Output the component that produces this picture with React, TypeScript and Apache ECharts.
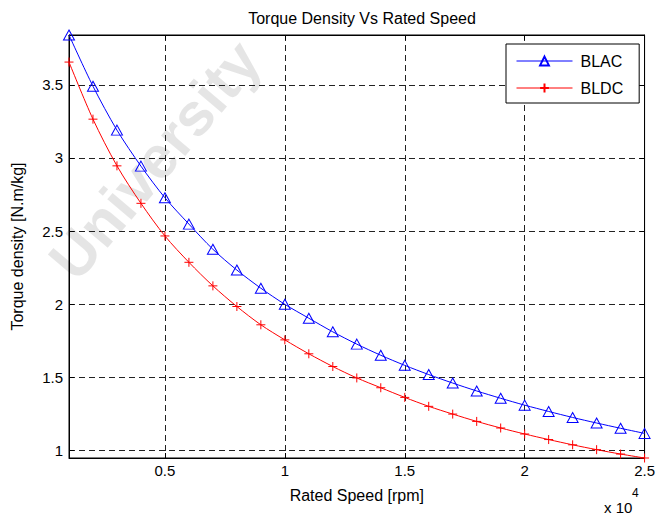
import React, { useEffect, useRef } from "react";
import * as echarts from "echarts";

const speeds = [1000, 2000, 3000, 4000, 5000, 6000, 7000, 8000, 9000, 10000, 11000, 12000, 13000, 14000, 15000, 16000, 17000, 18000, 19000, 20000, 21000, 22000, 23000, 24000, 25000];
const blac = [3.84, 3.49, 3.19, 2.944, 2.728, 2.548, 2.376, 2.234, 2.11, 2.0, 1.905, 1.812, 1.728, 1.652, 1.583, 1.52, 1.462, 1.408, 1.358, 1.311, 1.268, 1.227, 1.189, 1.153, 1.118];
const bldc = [3.655, 3.265, 2.946, 2.69, 2.467, 2.287, 2.126, 1.985, 1.86, 1.757, 1.662, 1.575, 1.497, 1.43, 1.364, 1.303, 1.25, 1.2, 1.155, 1.114, 1.076, 1.04, 1.007, 0.977, 0.95];
const seriesNames = ["BLAC", "BLDC"];
const xMin = 1000;
const xMax = 25000;
const yMin = 0.95;
const yMax = 3.84;

const FONT = "Liberation Sans, Arial, Helvetica, sans-serif";

export default function App() {
  const ref = useRef<HTMLDivElement>(null);
  useEffect(() => {
    if (!ref.current) return;
    const chart = echarts.init(ref.current, undefined, { renderer: "svg" });
    const gridLine = { show: true, lineStyle: { color: "#222", type: [6, 4] as any, width: 1 } };
    const xBase = {
      type: "value" as const,
      min: xMin,
      max: xMax,
      splitNumber: 5,
      axisLine: { show: true, lineStyle: { color: "#000", width: 1 } },
    };
    const yBase = {
      type: "value" as const,
      min: yMin,
      max: yMax,
      splitNumber: 6,
      axisLine: { show: true, lineStyle: { color: "#000", width: 1 } },
    };
    chart.setOption({
      animation: false,
      backgroundColor: "#fff",
      title: {
        text: "Torque Density Vs Rated Speed",
        left: 357,
        textAlign: "center",
        top: 5,
        textStyle: { fontFamily: FONT, fontSize: 16, fontWeight: "normal", color: "#000" },
      },
      grid: { left: 69, right: 13, top: 35, bottom: 61, show: true, borderColor: "#000", borderWidth: 1 },
      legend: {
        orient: "vertical",
        left: 506,
        top: 44,
        padding: [9, 16, 7, 10],
        itemWidth: 56,
        itemHeight: 11,
        itemGap: 11,
        backgroundColor: "#fff",
        borderColor: "#000",
        borderWidth: 1,
        borderRadius: 0,
        lineStyle: { width: 1 },
        data: seriesNames,
        textStyle: { fontFamily: FONT, fontSize: 16, color: "#000", padding: [0, 0, 0, 3] },
      },
      graphic: [
        {
          type: "text",
          x: 155,
          y: 160,
          rotation: 0.87,
          z: -10,
          silent: true,
          style: {
            text: "University",
            fontFamily: FONT,
            fontSize: 60,
            fontWeight: "bold",
            fill: "rgba(0,0,0,0.1)",
            align: "center",
            verticalAlign: "middle",
          },
        },
        {
          type: "text",
          x: 604,
          y: 507,
          style: { text: "x 10", fontFamily: FONT, fontSize: 15, fill: "#000", verticalAlign: "middle" },
        },
        {
          type: "text",
          x: 632,
          y: 493,
          style: { text: "4", fontFamily: FONT, fontSize: 12, fill: "#000", verticalAlign: "middle" },
        },
      ],
      xAxis: [
        {
          ...xBase,
          name: "Rated Speed [rpm]",
          nameLocation: "middle",
          nameGap: 29,
          nameTextStyle: { fontFamily: FONT, fontSize: 16, color: "#000" },
          axisTick: { show: true, inside: true, length: 5, lineStyle: { color: "#000" } },
          axisLabel: {
            margin: 5,
            showMinLabel: false,
            fontFamily: FONT,
            fontSize: 15,
            color: "#000",
            formatter: (v: number) => String(v / 10000),
          },
          splitLine: gridLine,
        },
        {
          ...xBase,
          position: "top",
          axisTick: { show: true, inside: true, length: 5, lineStyle: { color: "#000" } },
          axisLabel: { show: false },
          splitLine: { show: false },
        },
      ],
      yAxis: [
        {
          ...yBase,
          name: "Torque density [N.m/kg]",
          nameLocation: "middle",
          nameGap: 44,
          nameTextStyle: { fontFamily: FONT, fontSize: 16, color: "#000" },
          axisTick: { show: true, inside: true, length: 5, lineStyle: { color: "#000" } },
          axisLabel: {
            margin: 6,
            showMinLabel: false,
            showMaxLabel: false,
            fontFamily: FONT,
            fontSize: 15,
            color: "#000",
          },
          splitLine: gridLine,
        },
        {
          ...yBase,
          position: "right",
          axisTick: { show: true, inside: true, length: 5, lineStyle: { color: "#000" } },
          axisLabel: { show: false },
          splitLine: { show: false },
        },
      ],
      series: [
        {
          name: seriesNames[0],
          type: "line",
          data: speeds.map((s, i) => [s, blac[i]]),
          smooth: 0.3,
          symbol: "path://M5,0L10,9L0,9Z",
          symbolSize: [11, 10],
          showAllSymbol: true,
          lineStyle: { color: "#0000ff", width: 1 },
          itemStyle: { color: "rgba(0,0,0,0)", borderColor: "#0000ff", borderWidth: 1 },
          z: 3,
        },
        {
          name: seriesNames[1],
          type: "line",
          data: speeds.map((s, i) => [s, bldc[i]]),
          smooth: 0.3,
          symbol: "path://M0,5L10,5M5,0L5,10",
          symbolSize: 9,
          showAllSymbol: true,
          lineStyle: { color: "#ff0000", width: 1 },
          itemStyle: { color: "rgba(0,0,0,0)", borderColor: "#ff0000", borderWidth: 1 },
          z: 3,
        },
      ],
    });
    return () => chart.dispose();
  }, []);
  return <div ref={ref} style={{ width: 658, height: 519, position: "absolute", left: 0, top: 0 }} />;
}
